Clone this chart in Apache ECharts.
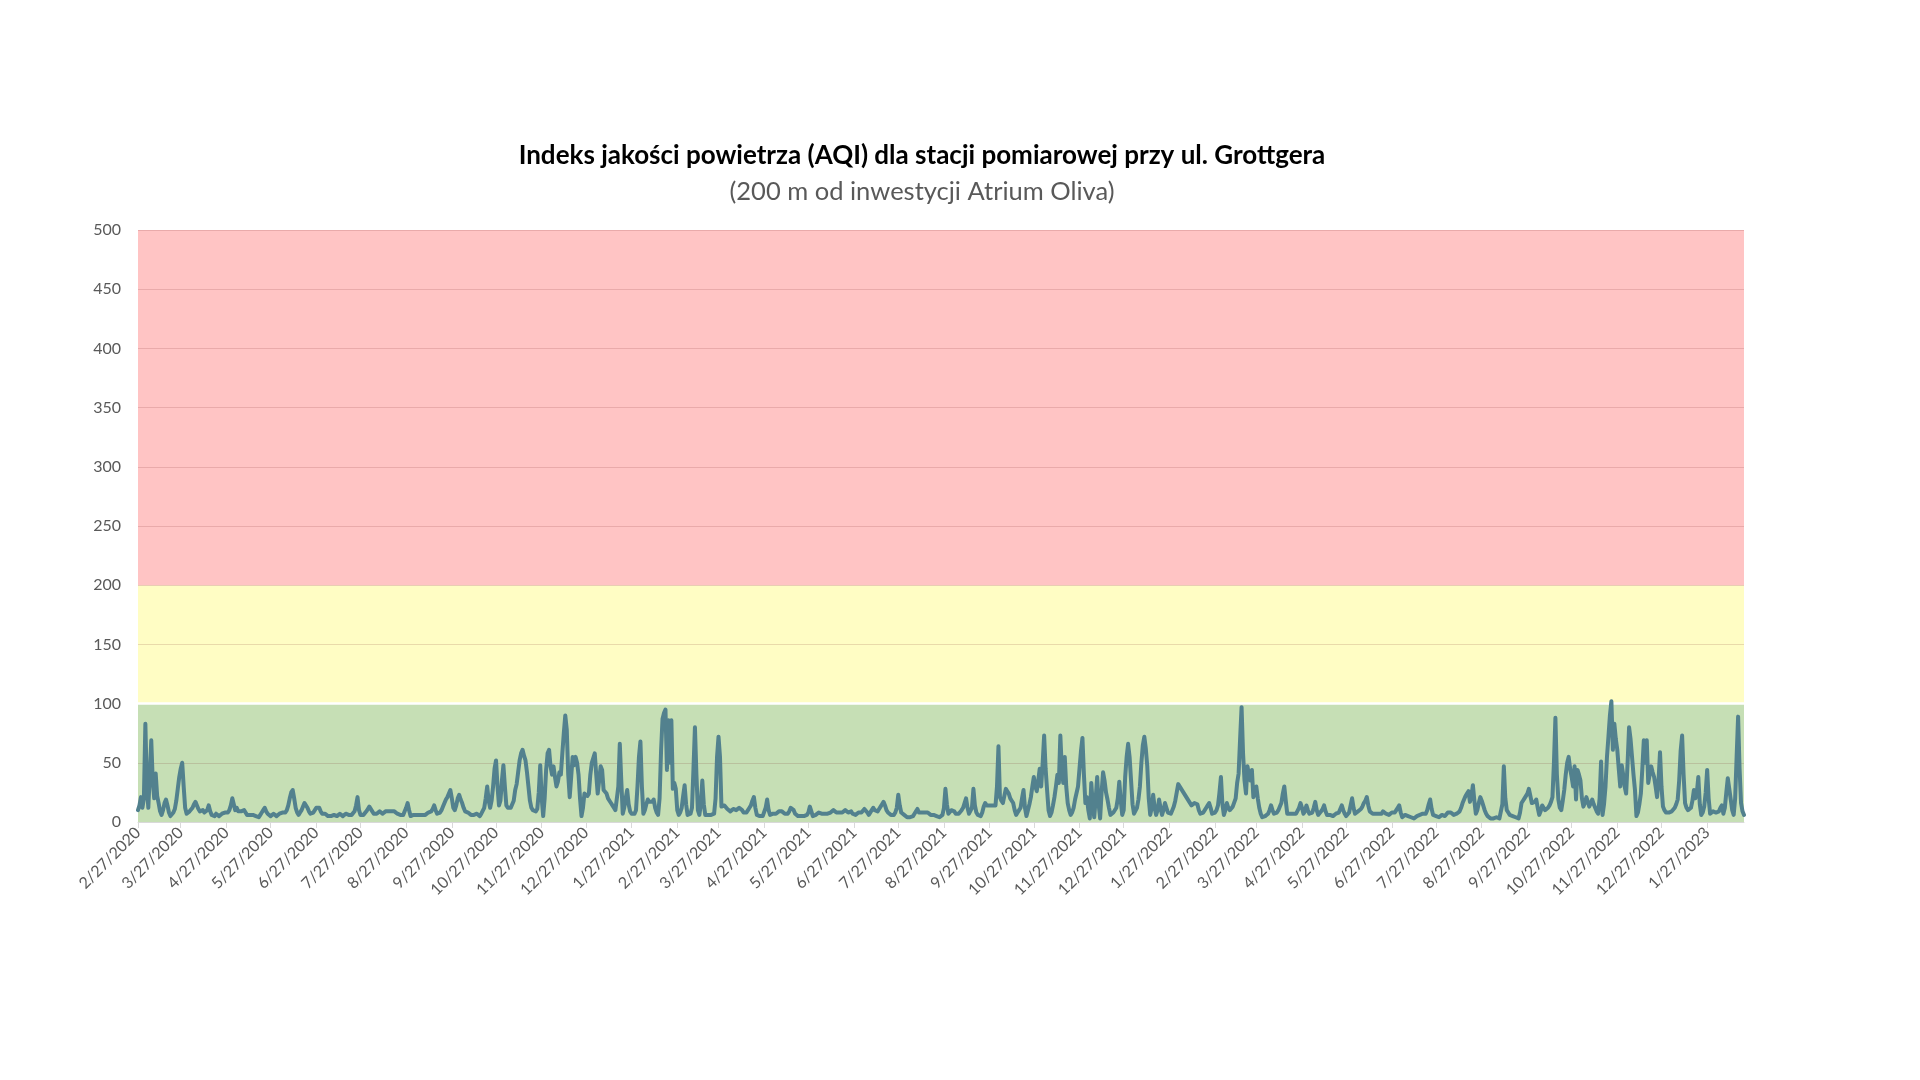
<!DOCTYPE html>
<html><head><meta charset="utf-8">
<script src="https://cdn.jsdelivr.net/npm/echarts@6/dist/echarts.min.js"></script>
<style>html,body{margin:0;padding:0;background:#fff}#c{width:1920px;height:1080px}</style>
</head><body><div id="c"></div>
<script>
const titleText = 'Indeks jakości powietrza (AQI) dla stacji pomiarowej przy ul. Grottgera';
const subtitleText = '(200 m od inwestycji Atrium Oliva)';
const startDate = '2020-02-27';
const yTicks = [0, 50, 100, 150, 200, 250, 300, 350, 400, 450, 500];
const bandGood = [0, 100];
const bandModerate = [100, 200];
const bandBad = [200, 500];

// daily AQI, each block runs from the 27th of one month to the 26th of the next
const p2020_02 = [10,14,21,12,20,83,30,12,40,69, 35,20,41,22,16,9,6,10,16,19, 14,8,5,6,8,11,18,28,38];
const p2020_03 = [45,50,30,12,7,8,9,10,12,15, 17,14,11,9,10,10,8,7,10,14, 9,6,6,5,7,6,5,6,7,6, 8];
const p2020_04 = [7,8,10,14,20,15,10,12,9,8, 9,10,10,8,6,5,6,5,6,7, 5,6,4,6,8,10,12,9,7,6];
const p2020_05 = [5,6,7,6,5,6,7,6,8,7, 8,10,14,20,25,27,20,12,8,6, 8,10,13,16,16,12,9,7,6,8, 10];
const p2020_06 = [12,11,12,9,7,6,7,6,5,6, 5,5,6,5,5,6,7,6,5,6, 7,6,6,5,6,7,9,14,21,10];
const p2020_07 = [6,5,6,7,9,11,13,12,9,7, 6,7,8,9,8,7,8,9,10,9, 8,9,10,9,8,7,8,6,5,6, 9];
const p2020_08 = [12,16,10,5,4,6,7,6,5,6, 7,6,5,6,7,8,7,9,11,14, 10,7,6,8,10,13,16,19,21,24, 27];
const p2020_09 = [20,12,10,14,20,23,19,16,12,9, 10,8,7,6,7,6,5,7,6,5, 7,8,12,20,30,18,12,18,30,45];
const p2020_10 = [52,30,14,18,35,48,30,14,12,11, 12,13,18,27,32,42,52,58,61,56, 52,42,30,18,12,10,10,9,11,25, 48];
const p2020_11 = [20,5,20,44,58,61,47,40,47,38, 30,34,42,40,58,75,90,78,40,21, 38,55,48,55,50,40,20,5,12,24];
const p2020_12 = [25,22,24,40,50,54,58,40,24,35, 47,44,27,26,24,20,18,16,14,12, 10,9,30,66,35,7,12,20,27,15, 9];
const p2021_01 = [7,8,7,10,30,55,68,30,7,10, 15,19,17,16,17,19,12,8,6,20, 60,87,92,95,44,86,50,86,28,33, 28];
const p2021_02 = [10,6,8,12,22,31,15,6,6,7, 12,45,80,40,10,6,15,35,15,6, 6,6,5,6,6,7,20,55];
const p2021_03 = [72,55,13,12,14,13,11,10,9,10, 11,10,10,11,12,12,10,8,7,8, 10,12,14,18,21,12,6,5,5,6, 5];
const p2021_04 = [6,12,19,10,6,6,7,8,7,8, 9,8,9,8,7,6,7,9,12,13, 10,7,6,5,6,5,4,5,4,6];
const p2021_05 = [8,13,9,5,4,6,7,8,7,7, 6,7,8,7,7,8,9,10,10,8, 7,8,7,8,9,10,9,8,9,9, 7];
const p2021_06 = [6,6,7,8,9,8,9,11,12,8, 6,7,10,12,10,9,9,11,13,15, 17,14,10,8,7,6,6,6,8,12];
const p2021_07 = [23,14,8,7,6,5,4,5,4,5, 5,7,9,11,8,7,8,9,8,7, 8,7,6,6,6,5,5,4,4,3, 6];
const p2021_08 = [12,28,15,7,8,10,11,9,7,6, 7,8,10,12,16,20,12,7,6,12, 28,14,8,6,5,5,8,13,16,14, 13];
const p2021_09 = [14,15,14,13,14,30,64,21,18,16, 22,28,26,24,20,18,16,10,6,8, 10,12,20,27,12,5,10,15,21,30];
const p2021_10 = [38,30,26,35,45,30,50,73,45,27, 10,5,8,14,21,30,40,33,73,45, 33,55,30,16,10,6,8,12,19,20, 30];
const p2021_11 = [45,60,71,40,16,21,10,3,33,15, 4,20,38,15,3,25,42,35,25,19, 12,6,7,8,9,12,20,34,18,6];
const p2021_12 = [10,38,55,66,55,35,15,7,8,12, 19,30,50,65,72,62,47,20,6,12, 23,12,6,10,19,12,6,10,16,12, 8];
const p2022_01 = [8,7,10,13,18,25,32,null,null,null, null,null,null,null,null,14,15,16,17,15, 10,7,6,8,10,12,14,16,12,7, 7];
const p2022_02 = [8,10,14,25,38,15,6,10,16,12, 10,11,13,14,20,33,41,70,97,58, 35,24,47,40,35,44,21,25];
const p2022_03 = [30,20,12,7,4,4,5,5,7,10, 14,10,7,6,8,10,13,16,24,30, 18,7,6,7,6,7,8,7,8,12, 16];
const p2022_04 = [12,7,9,14,10,7,6,8,12,17, 10,6,7,9,11,14,9,6,5,6, 6,5,6,7,7,8,11,14,10,7];
const p2022_05 = [5,6,8,14,20,12,7,8,9,10, 11,13,16,18,21,14,9,8,7,8, 7,6,7,6,7,9,8,7,6,6, 7];
const p2022_06 = [8,7,8,10,12,14,8,4,5,6, 6,5,4,4,3,3,4,5,5,6, 6,7,6,7,10,15,19,11,6,5];
const p2022_07 = [5,4,4,5,6,5,5,6,8,9, 8,7,6,6,7,7,9,12,16,19, 22,24,26,17,22,31,18,7,10,16, 21];
const p2022_08 = [18,14,10,7,5,4,3,3,3,3, 4,3,3,4,15,47,20,10,8,6, 6,5,4,4,3,3,8,16,18,20, 21];
const p2022_09 = [24,28,22,16,15,17,19,12,6,9, 14,12,10,11,12,14,17,21,50,88, 40,19,12,10,18,27,40,50,55,45];
const p2022_10 = [38,30,47,19,44,40,35,20,13,16, 21,17,13,16,19,15,12,9,7,20, 51,6,15,30,55,72,90,102,61,83, 70];
const p2022_11 = [61,45,30,48,40,30,24,50,80,70, 55,40,27,5,8,15,24,45,69,50, 69,33,40,47,42,38,30,21,35,59];
const p2022_12 = [30,13,10,8,7,8,9,9,10,12, 15,19,35,60,73,40,16,12,10,9, 12,18,27,20,25,38,15,6,8,13, 25];
const p2023_01 = [44,20,7,8,9,10,8,7,9,12, 14,7,12,25,37,28,19,10,6,20, 55,89,45,16,9,6];

const aqiValues = [].concat(p2020_02,p2020_03,p2020_04,p2020_05,p2020_06,p2020_07,p2020_08,p2020_09,p2020_10,p2020_11,p2020_12,
  p2021_01,p2021_02,p2021_03,p2021_04,p2021_05,p2021_06,p2021_07,p2021_08,p2021_09,p2021_10,p2021_11,p2021_12,
  p2022_01,p2022_02,p2022_03,p2022_04,p2022_05,p2022_06,p2022_07,p2022_08,p2022_09,p2022_10,p2022_11,p2022_12,p2023_01);

const categories = [];
(function(){
  const p = startDate.split('-').map(Number);
  for (let i = 0; i < aqiValues.length; i++) {
    const d = new Date(Date.UTC(p[0], p[1]-1, p[2] + i));
    categories.push((d.getUTCMonth()+1) + '/' + d.getUTCDate() + '/' + d.getUTCFullYear());
  }
})();
const isMonthTick = (idx, val) => val.split('/')[1] === '27';

const FONT = 'Lato, "Open Sans", sans-serif';
const chart = echarts.init(document.getElementById('c'), null, {renderer: 'canvas'});
chart.setOption({
  animation: false,
  backgroundColor: '#ffffff',
  title: [
    {text: titleText, left: 917, top: 138, textAlign: 'center',
     textStyle: {fontFamily: FONT, fontWeight: 'bold', fontSize: 26, color: '#000000'}},
    {text: subtitleText, left: 917, top: 174, textAlign: 'center',
     textStyle: {fontFamily: FONT, fontWeight: 'normal', fontSize: 25.5, color: '#595959'}}
  ],
  grid: {left: 138, right: 176, top: 230, bottom: 258, containLabel: false},
  xAxis: {
    type: 'category', data: categories, boundaryGap: false, z: 2,
    axisLine: {lineStyle: {color: '#d9d9d9', width: 1}},
    axisTick: {show: true, interval: isMonthTick, length: 6, lineStyle: {color: '#d9d9d9'}},
    axisLabel: {interval: isMonthTick, rotate: 45, fontFamily: FONT, fontSize: 16, color: '#595959', margin: 8},
    splitLine: {show: false}
  },
  yAxis: {
    type: 'value', min: yTicks[0], max: yTicks[yTicks.length-1], interval: yTicks[1]-yTicks[0], z: 2,
    axisLine: {show: false}, axisTick: {show: false},
    axisLabel: {fontFamily: FONT, fontSize: 16, color: '#595959', margin: 17},
    splitLine: {lineStyle: {color: 'rgba(120,40,40,0.16)', width: 1.2}}
  },
  series: [
    {
      name: 'bands', type: 'line', data: aqiValues, z: 1, silent: true, showSymbol: false,
      lineStyle: {opacity: 0, width: 0},
      markArea: {silent: true, data: [
        [{yAxis: bandGood[0], itemStyle: {color: '#C6DFB5'}}, {yAxis: bandGood[1]}],
        [{yAxis: bandModerate[0], itemStyle: {color: '#FFFDC4'}}, {yAxis: bandModerate[1]}],
        [{yAxis: bandBad[0], itemStyle: {color: '#FFC4C4'}}, {yAxis: bandBad[1]}]
      ]},
      markLine: {silent: true, symbol: 'none', label: {show: false},
        lineStyle: {color: '#ffffff', width: 2.5, type: 'solid'},
        data: [{yAxis: bandGood[1]}]}
    },
    {
      name: 'AQI', type: 'line', data: aqiValues, z: 5, showSymbol: false, connectNulls: true,
      lineStyle: {color: '#52818E', width: 4, join: 'round', cap: 'round'},
      itemStyle: {color: '#52818E'}
    }
  ]
});
</script></body></html>
